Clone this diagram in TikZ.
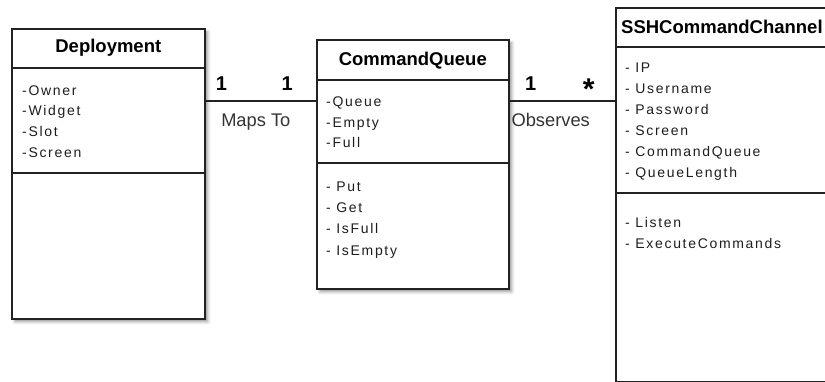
\documentclass[tikz,border=0pt]{standalone}
\usepackage{fontspec}
\setmainfont{Liberation Sans}
\newfontfamily\memberfont[LetterSpace=12]{Liberation Sans}
\usetikzlibrary{shadows.blur}

\definecolor{umlline}{HTML}{222222}
\definecolor{umltext}{HTML}{1E1E1E}

\tikzset{
  classbox/.style={draw=umlline, line width=1.6pt, fill=white, rectangle,
    anchor=north west, inner sep=0pt,
    blur shadow={shadow xshift=3pt, shadow yshift=-3pt, shadow blur radius=3pt}},
  classname/.style={font=\bfseries\fontsize{18.5}{22}\selectfont, inner sep=0pt,
    text height=13.5pt, text depth=0pt},
  member/.style={font=\memberfont\fontsize{14}{17}\selectfont, text=umltext,
    anchor=west, inner sep=0pt, text height=10pt, text depth=0pt},
  divider/.style={draw=umlline, line width=1.6pt},
  assoc/.style={draw=umlline, line width=2.4pt},
  mult/.style={font=\bfseries\fontsize{20}{24}\selectfont, inner sep=0pt,
    text height=14pt, text depth=0pt},
  role/.style={font=\fontsize{18.3}{22}\selectfont, text=black!80, inner sep=0pt,
    text height=13pt, text depth=4pt}
}

\begin{document}
\begin{tikzpicture}[x=1pt,y=-1pt]
\useasboundingbox (0,0) rectangle (825,382);
\clip (0,0) rectangle (825,382);

% class boxes
\node[classbox, minimum width=193pt, minimum height=290pt] (deploy) at (11,28) {};
\node[classbox, minimum width=192pt, minimum height=249pt] (cq) at (316,39) {};
\node[classbox, minimum width=235pt, minimum height=374pt] (ssh) at (615,7) {};

% compartments
\draw[divider] (deploy.west |- 0,68) -- (deploy.east |- 0,68);
\draw[divider] (deploy.west |- 0,173) -- (deploy.east |- 0,173);
\draw[divider] (cq.west |- 0,80) -- (cq.east |- 0,80);
\draw[divider] (cq.west |- 0,163) -- (cq.east |- 0,163);
\draw[divider] (ssh.west |- 0,47) -- (ssh.east |- 0,47);
\draw[divider] (ssh.west |- 0,193) -- (ssh.east |- 0,193);

% class names
\node[classname] (deploy-name) at (deploy.north |- 0,46) {Deployment};
\node[classname] (cq-name) at (cq.north |- 0,58.5) {CommandQueue};
\node[classname, anchor=west] (ssh-name) at (621,26.5) {SSHCommandChannel};

% attributes and operations
\foreach \t [count=\i] in {-Owner,-Widget,-Slot,-Screen}
  \node[member] (deploy-a\i) at (22,69.5+20.7*\i) {\t};
\foreach \t [count=\i] in {-Queue,-Empty,-Full}
  \node[member] (cq-a\i) at (326,81.5+20.5*\i) {\t};
\foreach \t [count=\i] in {- Put,- Get,- IsFull,- IsEmpty}
  \node[member] (cq-o\i) at (326,166+21*\i) {\t};
\foreach \t [count=\i] in {- IP,- Username,- Password,- Screen,- CommandQueue,- QueueLength}
  \node[member] (ssh-a\i) at (625,47+21*\i) {\t};
\foreach \t [count=\i] in {- Listen,- ExecuteCommands}
  \node[member] (ssh-o\i) at (625,202.5+20.5*\i) {\t};

% associations
\draw[assoc] (deploy.east |- 0,101) --
  node[mult, pos=.143, yshift=17pt] (deploy-mult) {1}
  node[mult, pos=.74, yshift=17pt] (cq-mult-l) {1}
  node[role, pos=.455, yshift=-21pt] (mapsto) {Maps To}
  (cq.west |- 0,101);
\draw[assoc] (cq.east |- 0,101) --
  node[mult, pos=.2, yshift=17pt] (cq-mult-r) {1}
  node[mult, pos=.75, yshift=17pt] (ssh-mult) {\raisebox{-9pt}{\scalebox{1.5}{*}}}
  node[role, pos=.39, yshift=-21pt] (observes) {Observes}
  (ssh.west |- 0,101);
\end{tikzpicture}
\end{document}
